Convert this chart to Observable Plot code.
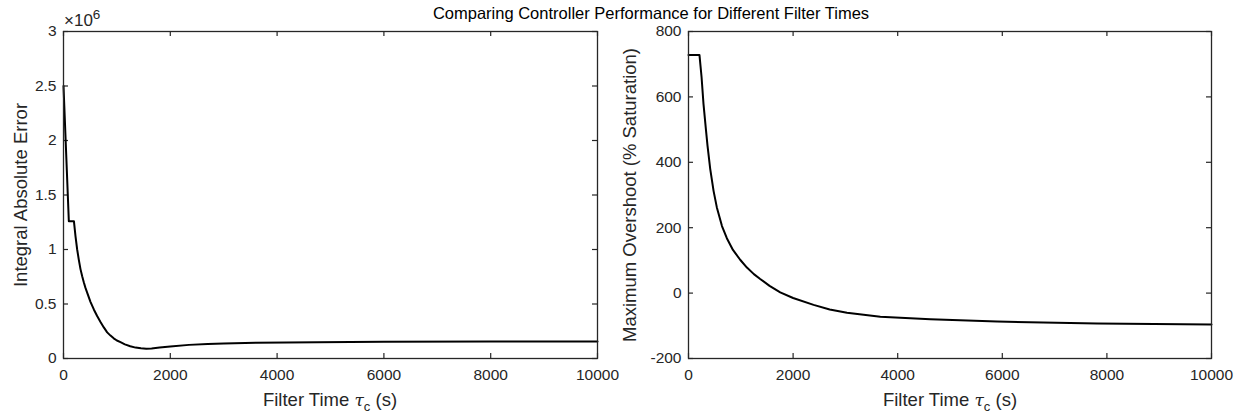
<!DOCTYPE html>
<html>
<head>
<meta charset="utf-8">
<script src="https://cdn.jsdelivr.net/npm/d3@7"></script>
<script src="https://cdn.jsdelivr.net/npm/@observablehq/plot@0.6"></script>
<style>
  html, body { margin: 0; padding: 0; background: #fff; }
  #wrap { position: relative; width: 1239px; height: 415px; overflow: hidden;
          font-family: "Liberation Sans", Arial, Helvetica, sans-serif; color: #262626; }
  #wrap svg { position: absolute; top: 0; }
  .title { position: absolute; top: 4px; left: 651px; transform: translateX(-50%);
           font-size: 16.5px; white-space: nowrap; color: #000; }
  .xlabel { position: absolute; top: 389px; transform: translateX(-50%);
            font-size: 18.5px; white-space: nowrap; }
  .xlabel i { font-family: "DejaVu Serif", "Liberation Serif", serif; font-size: 17px; }
  .xlabel sub { font-size: 13px; vertical-align: -5px; }
  .expo { position: absolute; left: 64px; top: 7px; font-size: 17px; white-space: nowrap; }
  .expo sup { font-size: 13.5px; vertical-align: 7px; }
</style>
</head>
<body>
<div id="wrap">
  <div class="title">Comparing Controller Performance for Different Filter Times</div>
  <div class="expo">×10<sup>6</sup></div>
  <div class="xlabel" style="left:330px">Filter Time <i>τ</i><sub>c</sub> (s)</div>
  <div class="xlabel" style="left:950px">Filter Time <i>τ</i><sub>c</sub> (s)</div>
</div>
<script>
// ---- Data ----
// Left panel: Integral Absolute Error (×10^6) vs filter time (s)
const filterTimeIAE = [0, 100, 195, 225, 256, 287, 318, 350, 380, 410, 443, 505, 568, 630, 693, 755, 818, 880, 940, 1000, 1067, 1150, 1250, 1350, 1450, 1550, 1650, 1800, 2000, 2350, 2700, 3000, 3600, 4750, 6000, 8000, 10000];
const iae           = [2.50, 1.26, 1.26, 1.12, 1.00, 0.905, 0.82, 0.755, 0.70, 0.65, 0.605, 0.52, 0.45, 0.39, 0.335, 0.285, 0.24, 0.21, 0.185, 0.165, 0.15, 0.13, 0.113, 0.10, 0.093, 0.09, 0.092, 0.10, 0.11, 0.125, 0.133, 0.138, 0.144, 0.15, 0.153, 0.155, 0.156];

// Right panel: Maximum Overshoot (% Saturation) vs filter time (s)
const filterTimeOS = [0, 210, 250, 287, 330, 364, 415, 480, 542, 640, 733, 850, 988, 1117, 1250, 1371, 1550, 1754, 2000, 2392, 2700, 3030, 3668, 4624, 5900, 7813, 10000];
const overshoot    = [728, 728, 660, 578, 505, 450, 380, 312, 262, 205, 168, 132, 102, 78, 58, 43, 22, 2, -15, -36, -50, -60, -72, -80, -87, -93, -96];

// Tick values
const xTicks   = [0, 2000, 4000, 6000, 8000, 10000];
const iaeTicks = [0, 0.5, 1, 1.5, 2, 2.5, 3];
const osTicks  = [-200, 0, 200, 400, 600, 800];

const yLabels = ["Integral Absolute Error", "Maximum Overshoot (% Saturation)"];

const FONT = '"Liberation Sans", Arial, Helvetica, sans-serif';
const INK = "#262626";

function panel({xs, ys, yDomain, yTicks, width, ml, mr, yLabel, labelDx}) {
  const H = 415, mt = 31, mb = 57;
  const fh = H - mt - mb, fw = width - ml - mr;
  const tl = 5;
  const data = xs.map((x, i) => ({x, y: ys[i]}));
  return Plot.plot({
    width, height: H,
    marginLeft: ml, marginRight: mr, marginTop: mt, marginBottom: mb,
    style: {fontFamily: FONT, fontSize: "15.5px", color: INK, background: "transparent", overflow: "visible"},
    x: {domain: [0, 10000]},
    y: {domain: yDomain},
    marks: [
      Plot.axisX(xTicks, {anchor: "bottom", tickSize: 0, tickPadding: 10, label: null, tickFormat: d => String(d), fill: INK}),
      Plot.axisY(yTicks, {anchor: "left", tickSize: 0, tickPadding: 7, label: null, tickFormat: d => String(d), fill: INK}),
      Plot.tickX(xTicks, {x: d => d, insetTop: fh - tl, stroke: INK, strokeWidth: 1.2}),
      Plot.tickX(xTicks, {x: d => d, insetBottom: fh - tl, stroke: INK, strokeWidth: 1.2}),
      Plot.tickY(yTicks, {y: d => d, insetRight: fw - tl, stroke: INK, strokeWidth: 1.2}),
      Plot.tickY(yTicks, {y: d => d, insetLeft: fw - tl, stroke: INK, strokeWidth: 1.2}),
      Plot.line(data, {x: "x", y: "y", stroke: "#000", strokeWidth: 2, strokeLinejoin: "round"}),
      Plot.frame({stroke: INK, strokeWidth: 1.3}),
      Plot.text([yLabel], {text: d => d, frameAnchor: "left", rotate: -90, dx: labelDx,
                           textAnchor: "middle", lineAnchor: "top", fontSize: 18.5, fill: INK})
    ]
  });
}

const wrap = document.getElementById("wrap");
const left = panel({xs: filterTimeIAE, ys: iae, yDomain: [0, 3], yTicks: iaeTicks,
                    width: 620, ml: 63, mr: 23, yLabel: yLabels[0], labelDx: -50});
left.style.left = "0px";
const right = panel({xs: filterTimeOS, ys: overshoot, yDomain: [-200, 800], yTicks: osTicks,
                     width: 619, ml: 68, mr: 28, yLabel: yLabels[1], labelDx: -66});
right.style.left = "620px";
wrap.insertBefore(left, wrap.firstChild);
wrap.insertBefore(right, wrap.firstChild);
</script>
</body>
</html>
